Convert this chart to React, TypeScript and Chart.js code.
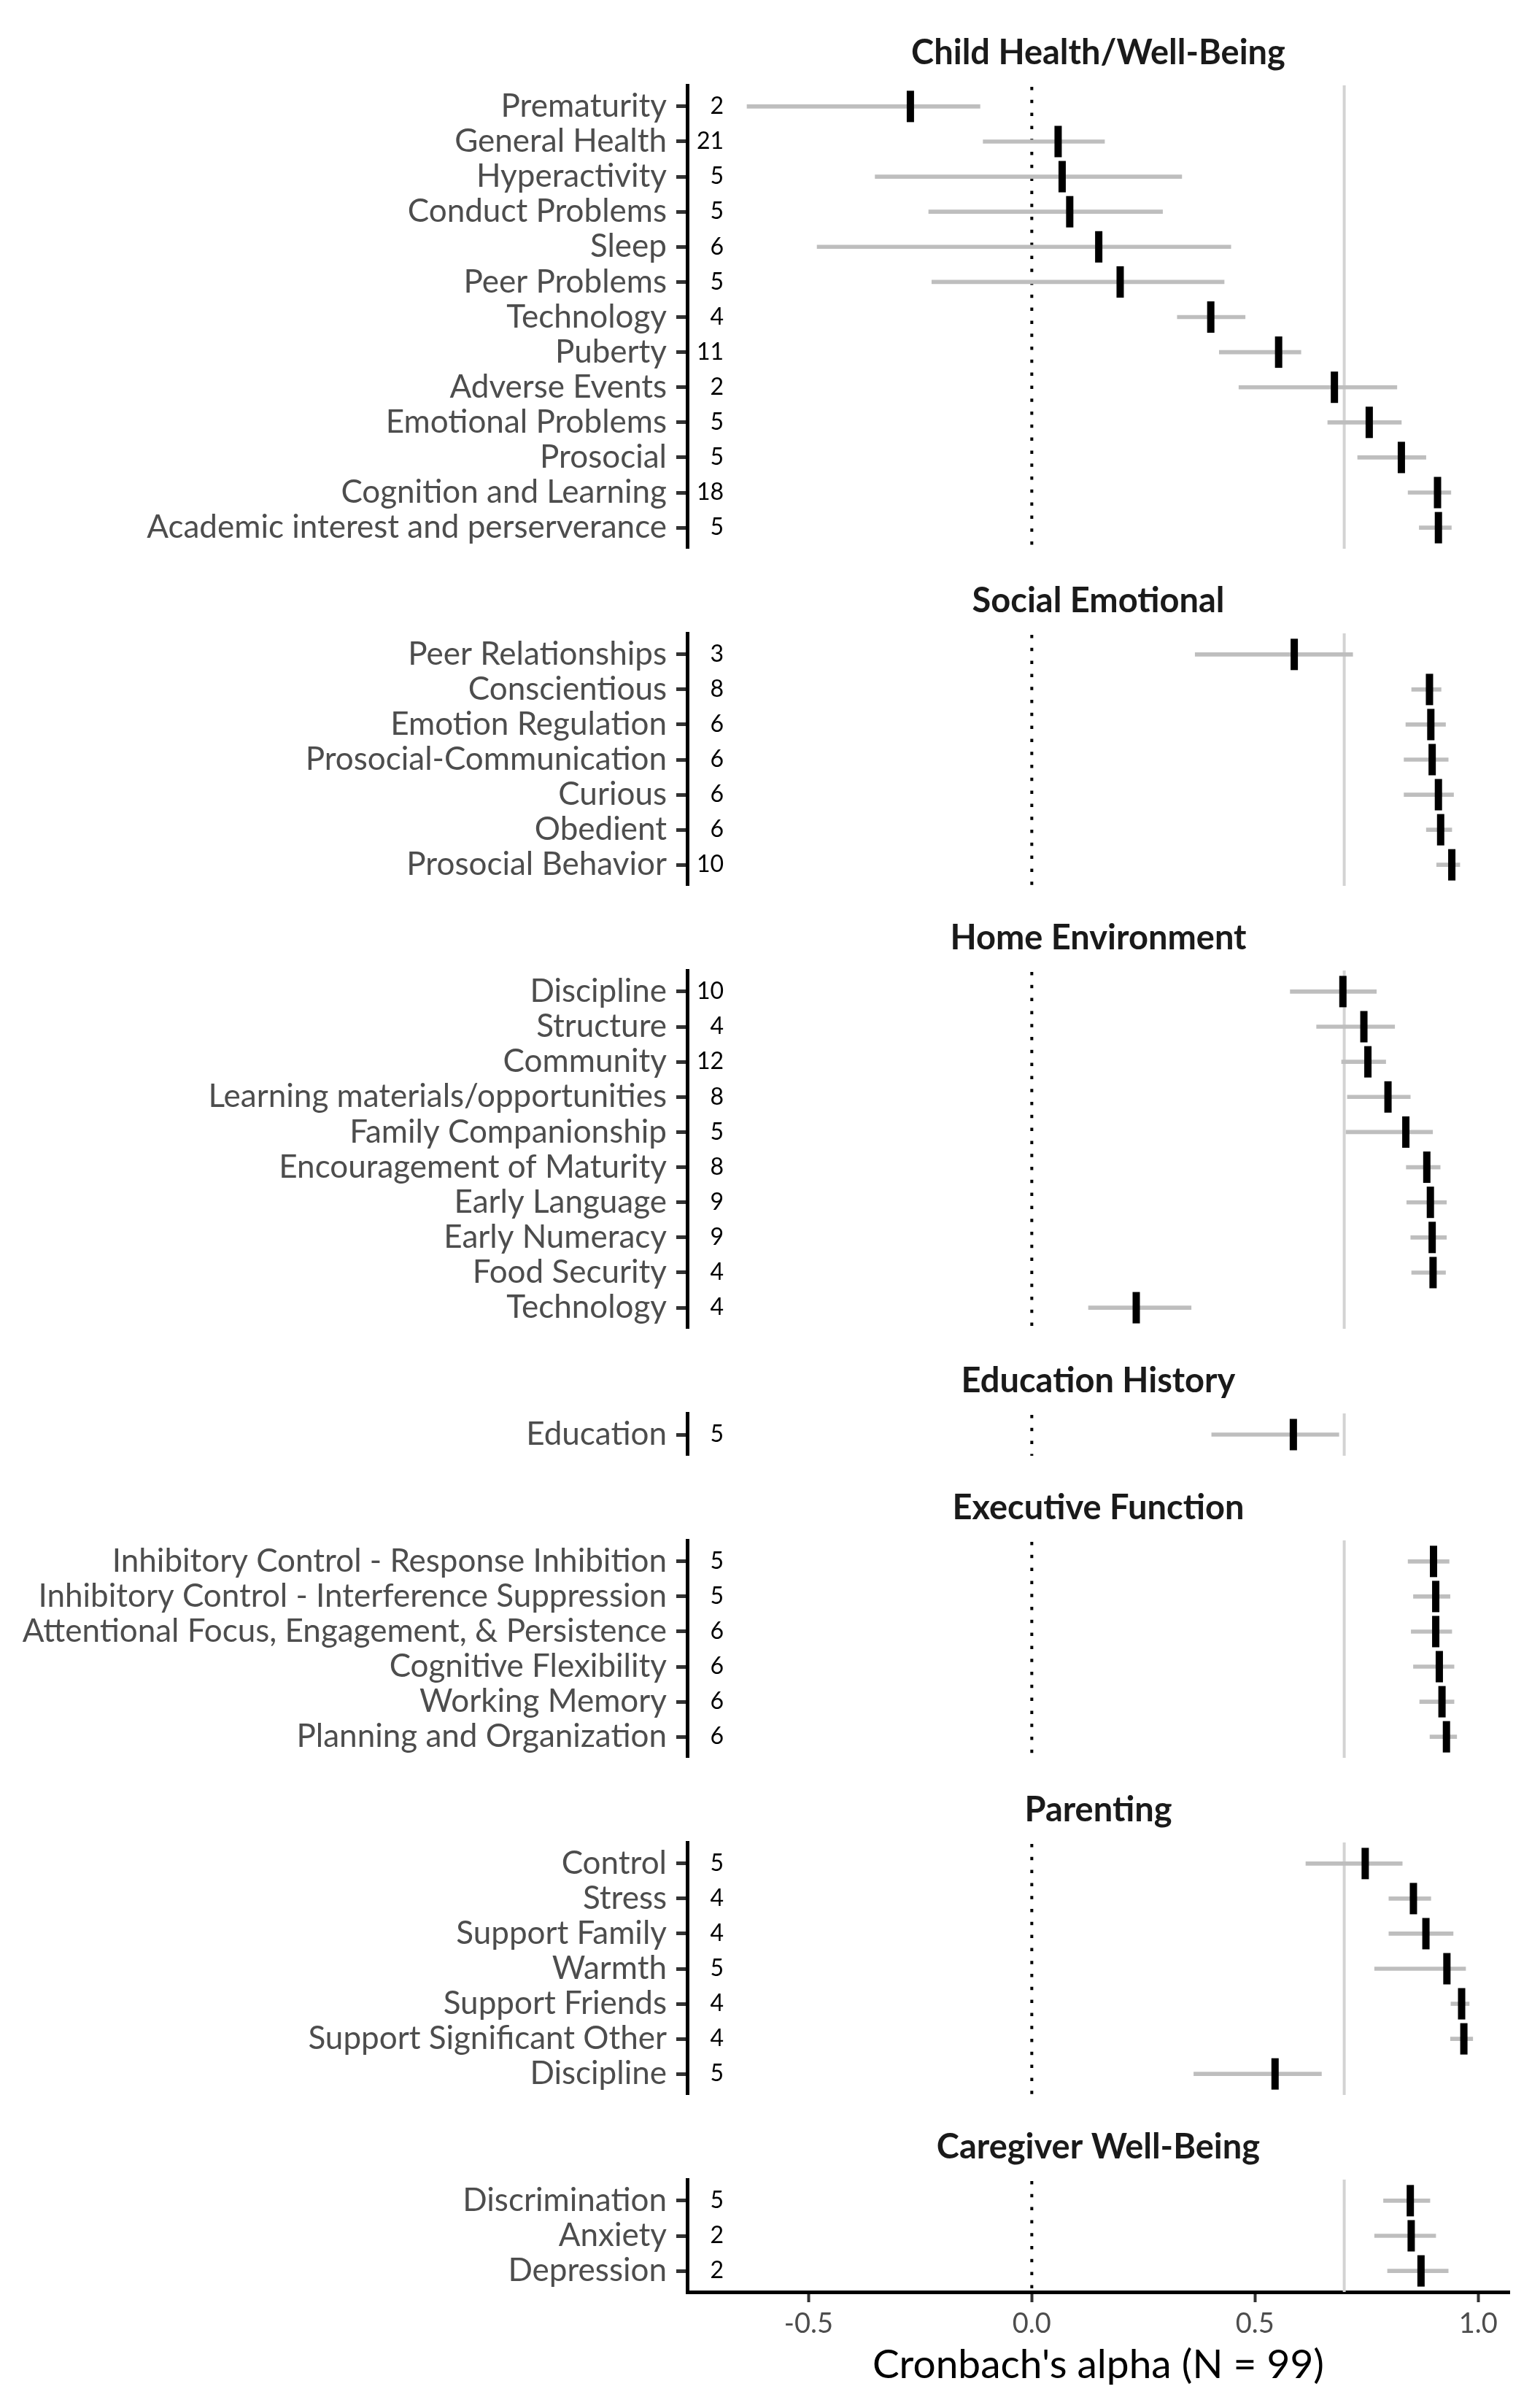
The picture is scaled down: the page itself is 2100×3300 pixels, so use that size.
import React, { useEffect, useRef } from "react";
import { Chart, registerables } from "chart.js";

Chart.register(...registerables);

// ---------------- data ----------------
const panelTitles = [
  "Child Health/Well-Being",
  "Social Emotional",
  "Home Environment",
  "Education History",
  "Executive Function",
  "Parenting",
  "Caregiver Well-Being",
];

const childHealthLabels = [
  "Prematurity",
  "General Health",
  "Hyperactivity",
  "Conduct Problems",
  "Sleep",
  "Peer Problems",
  "Technology",
  "Puberty",
  "Adverse Events",
  "Emotional Problems",
  "Prosocial",
  "Cognition and Learning",
  "Academic interest and perserverance",
];
const childHealthItems = [2, 21, 5, 5, 6, 5, 4, 11, 2, 5, 5, 18, 5];
const childHealthAlpha = [-0.272, 0.059, 0.068, 0.085, 0.15, 0.198, 0.401, 0.553, 0.678, 0.756, 0.828, 0.909, 0.911];
const childHealthLower = [-0.638, -0.109, -0.351, -0.231, -0.481, -0.224, 0.326, 0.42, 0.464, 0.663, 0.73, 0.843, 0.868];
const childHealthUpper = [-0.116, 0.163, 0.336, 0.293, 0.446, 0.431, 0.478, 0.603, 0.818, 0.828, 0.883, 0.939, 0.94];

const socialLabels = [
  "Peer Relationships",
  "Conscientious",
  "Emotion Regulation",
  "Prosocial-Communication",
  "Curious",
  "Obedient",
  "Prosocial Behavior",
];
const socialItems = [3, 8, 6, 6, 6, 6, 10];
const socialAlpha = [0.588, 0.891, 0.894, 0.897, 0.911, 0.916, 0.941];
const socialLower = [0.366, 0.851, 0.838, 0.834, 0.834, 0.884, 0.907];
const socialUpper = [0.719, 0.917, 0.927, 0.933, 0.945, 0.941, 0.959];

const homeLabels = [
  "Discipline",
  "Structure",
  "Community",
  "Learning materials/opportunities",
  "Family Companionship",
  "Encouragement of Maturity",
  "Early Language",
  "Early Numeracy",
  "Food Security",
  "Technology",
];
const homeItems = [10, 4, 12, 8, 5, 8, 9, 9, 4, 4];
const homeAlpha = [0.697, 0.744, 0.753, 0.798, 0.838, 0.885, 0.893, 0.897, 0.899, 0.234];
const homeLower = [0.579, 0.638, 0.694, 0.707, 0.704, 0.839, 0.84, 0.849, 0.851, 0.127];
const homeUpper = [0.772, 0.813, 0.793, 0.848, 0.898, 0.915, 0.929, 0.929, 0.927, 0.357];

const educationLabels = ["Education"];
const educationItems = [5];
const educationAlpha = [0.586];
const educationLower = [0.403];
const educationUpper = [0.688];

const executiveLabels = [
  "Inhibitory Control - Response Inhibition",
  "Inhibitory Control - Interference Suppression",
  "Attentional Focus, Engagement, & Persistence",
  "Cognitive Flexibility",
  "Working Memory",
  "Planning and Organization",
];
const executiveItems = [5, 5, 6, 6, 6, 6];
const executiveAlpha = [0.9, 0.905, 0.905, 0.913, 0.919, 0.929];
const executiveLower = [0.843, 0.855, 0.85, 0.855, 0.869, 0.892];
const executiveUpper = [0.935, 0.937, 0.941, 0.946, 0.946, 0.952];

const parentingLabels = [
  "Control",
  "Stress",
  "Support Family",
  "Warmth",
  "Support Friends",
  "Support Significant Other",
  "Discipline",
];
const parentingItems = [5, 4, 4, 5, 4, 4, 5];
const parentingAlpha = [0.747, 0.855, 0.883, 0.93, 0.963, 0.968, 0.545];
const parentingLower = [0.614, 0.8, 0.8, 0.768, 0.939, 0.938, 0.363];
const parentingUpper = [0.83, 0.894, 0.944, 0.972, 0.98, 0.988, 0.649];

const caregiverLabels = ["Discrimination", "Anxiety", "Depression"];
const caregiverItems = [5, 2, 2];
const caregiverAlpha = [0.848, 0.85, 0.872];
const caregiverLower = [0.788, 0.768, 0.797];
const caregiverUpper = [0.892, 0.905, 0.933];

const xTickValues = [-0.5, 0, 0.5, 1.0];
const xTickLabels = ["-0.5", "0.0", "0.5", "1.0"];
const xAxisTitle = "Cronbach's alpha (N = 99)";
const zeroLine = 0;
const thresholdLine = 0.7;
const countLabelX = -0.69;
const xMin = -0.772;
const xMax = 1.07;

// ---------------- layout / style ----------------
const ROW_H = 48.1;
const STRIP_H = 116;
const AXIS_H = 157;
const Y_AXIS_W = 942;
const RIGHT_PAD = 31;
const FIRST_TOP = 1;
const FONT = "Lato, 'Open Sans', sans-serif";
const TITLE_SIZE = 47;
const TITLE_CENTER = 72;

type PanelDef = {
  title: string;
  labels: string[];
  items: number[];
  alpha: number[];
  lower: number[];
  upper: number[];
};

const panels: PanelDef[] = [
  { title: panelTitles[0], labels: childHealthLabels, items: childHealthItems, alpha: childHealthAlpha, lower: childHealthLower, upper: childHealthUpper },
  { title: panelTitles[1], labels: socialLabels, items: socialItems, alpha: socialAlpha, lower: socialLower, upper: socialUpper },
  { title: panelTitles[2], labels: homeLabels, items: homeItems, alpha: homeAlpha, lower: homeLower, upper: homeUpper },
  { title: panelTitles[3], labels: educationLabels, items: educationItems, alpha: educationAlpha, lower: educationLower, upper: educationUpper },
  { title: panelTitles[4], labels: executiveLabels, items: executiveItems, alpha: executiveAlpha, lower: executiveLower, upper: executiveUpper },
  { title: panelTitles[5], labels: parentingLabels, items: parentingItems, alpha: parentingAlpha, lower: parentingLower, upper: parentingUpper },
  { title: panelTitles[6], labels: caregiverLabels, items: caregiverItems, alpha: caregiverAlpha, lower: caregiverLower, upper: caregiverUpper },
];

function Panel({ def, isLast, top, height }: { def: PanelDef; isLast: boolean; top: number; height: number }) {
  const ref = useRef<HTMLCanvasElement | null>(null);

  useEffect(() => {
    const canvas = ref.current;
    if (!canvas) return;
    const { labels, items, alpha, lower, upper, title } = def;
    const n = labels.length;

    const refLines = {
      id: "refLines",
      beforeDatasetsDraw(chart: any) {
        const { ctx, chartArea } = chart;
        const x = chart.scales.x;
        ctx.save();
        const xt = x.getPixelForValue(thresholdLine);
        ctx.strokeStyle = "#d3d3d3";
        ctx.lineWidth = 4;
        ctx.beginPath();
        ctx.moveTo(xt, chartArea.top);
        ctx.lineTo(xt, chartArea.bottom);
        ctx.stroke();
        const x0 = x.getPixelForValue(zeroLine);
        ctx.strokeStyle = "#000000";
        ctx.lineWidth = 4;
        ctx.setLineDash([4.5, 13.3]);
        ctx.lineDashOffset = -2;
        ctx.beginPath();
        ctx.moveTo(x0, chartArea.top);
        ctx.lineTo(x0, chartArea.bottom);
        ctx.stroke();
        ctx.restore();
      },
    };

    const counts = {
      id: "counts",
      afterDatasetsDraw(chart: any) {
        const { ctx } = chart;
        const x = chart.scales.x;
        const y = chart.scales.y;
        ctx.save();
        ctx.font = `32px ${FONT}`;
        ctx.fillStyle = "#000000";
        ctx.textAlign = "right";
        ctx.textBaseline = "middle";
        items.forEach((c, i) => {
          ctx.fillText(String(c), x.getPixelForValue(countLabelX), y.getPixelForValue(i));
        });
        ctx.restore();
      },
    };

    const xScale: any = {
      type: "linear",
      bounds: "data",
      offset: false,
      min: xMin,
      max: xMax,
      display: isLast,
      afterBuildTicks: (axis: any) => {
        axis.ticks = xTickValues.map((v) => ({ value: v }));
      },
      ticks: {
        color: "#4d4d4d",
        font: { family: FONT, size: 38 },
        padding: 7,
        autoSkip: false,
        maxRotation: 0,
        callback: (v: number) => xTickLabels[xTickValues.indexOf(v)],
      },
      grid: { offset: false, drawOnChartArea: false, drawTicks: true, tickLength: 14, tickWidth: 4, tickColor: "#333333" },
      border: { display: true, color: "#000000", width: 5 },
      title: {
        display: true,
        text: xAxisTitle,
        color: "#000000",
        font: { family: FONT, size: 55 },
        padding: { top: 0, bottom: 24 },
      },
    };
    if (isLast) {
      xScale.afterFit = (axis: any) => {
        axis.height = AXIS_H;
      };
    }

    const titleLine = TITLE_SIZE * 1.2;
    const titlePadTop = TITLE_CENTER - titleLine / 2;
    const titlePadBottom = STRIP_H - titlePadTop - titleLine;

    const chart = new Chart(canvas, {
      type: "bar",
      data: {
        datasets: [
          {
            type: "scatter",
            data: alpha.map((v, i) => ({ x: v, y: i })),
            pointStyle: "line",
            pointRotation: 90,
            pointRadius: 21.5,
            pointHoverRadius: 21.5,
            pointBorderWidth: 10,
            pointBorderColor: "#000000",
            pointBackgroundColor: "#000000",
            borderColor: "#000000",
            backgroundColor: "#000000",
            order: 0,
          } as any,
          {
            type: "bar",
            data: lower.map((lo, i) => ({ x: [lo, upper[i]], y: i })),
            backgroundColor: "#bebebe",
            borderWidth: 0,
            barThickness: 5,
            grouped: false,
            order: 1,
          } as any,
        ],
      },
      options: {
        indexAxis: "y",
        responsive: false,
        maintainAspectRatio: false,
        animation: false,
        events: [],
        layout: { autoPadding: false, padding: { left: 0, right: RIGHT_PAD, top: 0, bottom: 0 } },
        plugins: {
          legend: { display: false },
          tooltip: { enabled: false },
          title: {
            display: true,
            text: title,
            fullSize: false,
            color: "#1a1a1a",
            font: { family: FONT, size: TITLE_SIZE, weight: "bold" },
            padding: { top: titlePadTop, bottom: titlePadBottom },
          },
        },
        scales: {
          x: xScale,
          y: {
            type: "linear",
            bounds: "data",
            offset: false,
            reverse: true,
            min: -0.6,
            max: n - 0.4,
            afterBuildTicks: (axis: any) => {
              axis.ticks = labels.map((_, i) => ({ value: i }));
            },
            afterFit: (axis: any) => {
              axis.width = Y_AXIS_W;
              axis.paddingTop = 0;
              axis.paddingBottom = 0;
            },
            ticks: {
              autoSkip: false,
              padding: 13,
              color: "#4d4d4d",
              font: { family: FONT, size: 44 },
              callback: (v: number) => labels[v],
            },
            grid: { offset: false, drawOnChartArea: false, drawTicks: true, tickLength: 15, tickWidth: 5, tickColor: "#333333" },
            border: { display: true, color: "#000000", width: 5 },
          },
        },
      } as any,
      plugins: [refLines, counts],
    });

    return () => chart.destroy();
  }, [def, isLast]);

  return (
    <div style={{ position: "absolute", left: 0, top, width: 2100, height }}>
      <canvas ref={ref} width={2100} height={height} style={{ display: "block", width: 2100, height }} />
    </div>
  );
}

export default function App() {
  let acc = FIRST_TOP;
  const placed = panels.map((def, k) => {
    const isLast = k === panels.length - 1;
    const exact = STRIP_H + (def.labels.length + 0.2) * ROW_H;
    const top = Math.round(acc);
    const height = Math.round(exact + (isLast ? AXIS_H : 0));
    acc += exact;
    return { def, isLast, top, height };
  });
  return (
    <div style={{ position: "absolute", left: 0, top: 0, width: 2100, height: 3300, background: "#ffffff" }}>
      {placed.map((p, k) => (
        <Panel key={k} def={p.def} isLast={p.isLast} top={p.top} height={p.height} />
      ))}
    </div>
  );
}
